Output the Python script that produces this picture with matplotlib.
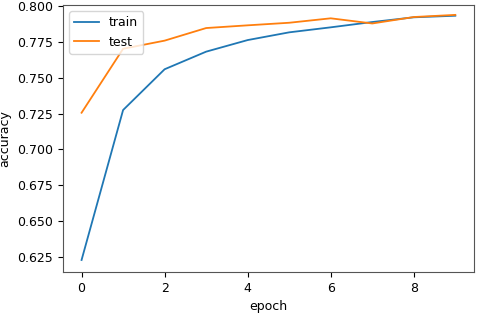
import numpy as np
import matplotlib
matplotlib.use("Agg")
import matplotlib.pyplot as plt

epochs = [0, 1, 2, 3, 4, 5, 6, 7, 8, 9]
train_acc = [0.6227, 0.7275, 0.7560, 0.7683, 0.7764, 0.7818, 0.7853, 0.7890, 0.7923, 0.7934]
test_acc = [0.7256, 0.7703, 0.7760, 0.7848, 0.7867, 0.7885, 0.7916, 0.7880, 0.7925, 0.7940]

plt.rcParams['font.size'] = 9

fig = plt.figure(figsize=(4.8, 3.13), dpi=100)
ax = fig.add_axes([0.131, 0.131, 0.8565, 0.853])

ax.plot(epochs, train_acc, color='#1f77b4', lw=1.3, label='train')
ax.plot(epochs, test_acc, color='#ff7f0e', lw=1.3, label='test')

ax.set_ylim(0.6143, 0.8009)
ax.set_yticks([0.625, 0.650, 0.675, 0.700, 0.725, 0.750, 0.775, 0.800])
ax.set_xticks([0, 2, 4, 6, 8])
ax.set_xlabel('epoch')
ax.set_ylabel('accuracy')
ax.legend(loc='upper left')

for s in ax.spines.values():
    s.set_color('#555555')

fig.savefig('out.png', dpi=100)
